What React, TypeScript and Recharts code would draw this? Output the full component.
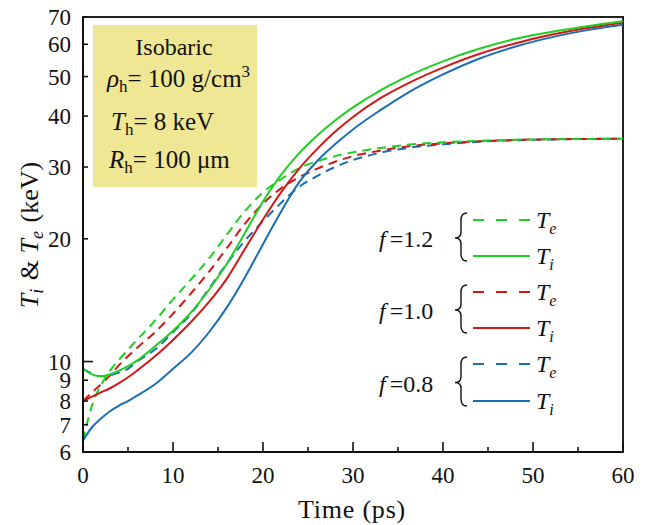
import React from 'react';
import { LineChart, Line, XAxis, YAxis, ReferenceArea } from 'recharts';

// time (ps)
const times = [0, 1, 2, 3, 4, 5, 6, 8, 10, 12, 14, 16, 18, 20, 22, 24, 26, 28, 30, 33, 36, 40, 44, 48, 52, 56, 60];
// f = 1.2
const te12 = [6.4, 7.8, 8.75, 9.5, 10.1, 10.7, 11.3, 12.6, 14.2, 15.9, 17.9, 20.5, 23.4, 26.0, 28.0, 29.8, 31.0, 31.9, 32.6, 33.4, 34.0, 34.5, 34.8, 35.0, 35.1, 35.15, 35.2];
const ti12 = [9.6, 9.3, 9.2, 9.3, 9.5, 9.75, 10.05, 10.9, 11.9, 13.2, 15.0, 17.4, 20.7, 24.7, 28.7, 32.4, 35.8, 39.0, 42.0, 46.2, 50.0, 54.5, 58.5, 61.8, 64.3, 66.4, 68.3];
// f = 1.0
const te10 = [8.0, 8.4, 8.8, 9.25, 9.8, 10.3, 10.8, 11.8, 13.1, 14.7, 16.6, 19.0, 21.8, 24.4, 26.6, 28.3, 29.7, 30.9, 31.9, 32.9, 33.7, 34.3, 34.7, 34.95, 35.1, 35.15, 35.2];
const ti10 = [8.0, 8.2, 8.4, 8.6, 8.85, 9.15, 9.5, 10.3, 11.3, 12.5, 14.0, 16.0, 18.9, 22.3, 26.0, 29.7, 33.2, 36.6, 39.8, 44.2, 48.0, 52.6, 56.8, 60.3, 63.3, 65.8, 67.8];
// f = 0.8
const te08 = [9.6, 9.35, 9.2, 9.25, 9.4, 9.6, 10.0, 10.7, 11.8, 13.1, 15.1, 17.4, 19.8, 22.1, 24.5, 26.8, 28.5, 30.0, 31.2, 32.5, 33.4, 34.1, 34.6, 34.9, 35.05, 35.15, 35.2];
const ti08 = [6.4, 6.9, 7.25, 7.55, 7.8, 8.0, 8.25, 8.8, 9.6, 10.5, 11.8, 13.6, 16.1, 19.4, 23.3, 27.5, 31.0, 34.1, 37.1, 41.3, 45.5, 50.6, 55.3, 59.2, 62.4, 65.0, 67.0];

const xTicks = [0, 5, 10, 15, 20, 25, 30, 35, 40, 45, 50, 55, 60];
const yTicks = [6, 7, 8, 9, 10, 20, 30, 40, 50, 60, 70];

const data = times.map((t, i) => ({
  t,
  te12: te12[i], ti12: ti12[i],
  te10: te10[i], ti10: ti10[i],
  te08: te08[i], ti08: ti08[i],
}));

const GREEN = '#1fcf1f';
const RED = '#d01818';
const BLUE = '#1a6fb3';
const FONT = '"Liberation Serif", "Times New Roman", serif';
const W = 647;
const H = 525;

const YTick = (props: any) => {
  const { x, y, payload } = props;
  const axisX = x + 12;
  const len = payload.value === 10 ? 10 : 5;
  return (
    <g>
      <line x1={axisX} x2={axisX + len} y1={y} y2={y} stroke="#111" strokeWidth={1.6} />
      <text x={x} y={y} dy={8} textAnchor="end" fontFamily={FONT} fontSize={23} fill="#111">
        {payload.value}
      </text>
    </g>
  );
};

const XTick = (props: any) => {
  const { x, y, payload } = props;
  const major = payload.value % 10 === 0;
  const len = major ? 10 : 5;
  return (
    <g>
      <line x1={x} x2={x} y1={y} y2={y - len} stroke="#111" strokeWidth={1.6} />
      {major && (
        <text x={x} y={y + 31} textAnchor="middle" fontFamily={FONT} fontSize={23} fill="#111">
          {payload.value}
        </text>
      )}
    </g>
  );
};

const legendGroups = [
  { label: '1.2', color: GREEN, te: 220, ti: 256 },
  { label: '1.0', color: RED, te: 292, ti: 328 },
  { label: '0.8', color: BLUE, te: 364, ti: 401 },
];

const Overlay = () => (
  <svg width={W} height={H} style={{ position: 'absolute', left: 0, top: 0, pointerEvents: 'none' }}>
    {/* info box */}
    <rect x={93} y={25} width={164} height={162} fill="#f0e795" />
    <g fontFamily={FONT} fontSize={25} fill="#111">
      <text x={174} y={55} textAnchor="middle" fontSize={24}>Isobaric</text>
      <text x={107} y={87}>
        <tspan fontStyle="italic">ρ</tspan>
        <tspan fontSize={17} dy={5}>h</tspan>
        <tspan dy={-5}>= 100 g/cm</tspan>
        <tspan fontSize={17} dy={-10}>3</tspan>
      </text>
      <text x={111} y={130}>
        <tspan fontStyle="italic">T</tspan>
        <tspan fontSize={17} dy={5}>h</tspan>
        <tspan dy={-5}>= 8 keV</tspan>
      </text>
      <text x={109} y={168}>
        <tspan fontStyle="italic">R</tspan>
        <tspan fontSize={17} dy={5}>h</tspan>
        <tspan dy={-5}>= 100 μm</tspan>
      </text>
    </g>
    {/* legend */}
    {legendGroups.map((g) => {
      const mid = (g.te + g.ti) / 2;
      const top = g.te - 7;
      const bot = g.ti + 5;
      return (
        <g key={g.label}>
          <text x={379} y={mid + 9} fontFamily={FONT} fontSize={24} fill="#111">
            <tspan fontStyle="italic">f</tspan>
            <tspan dx={4}>=</tspan>
            <tspan>{g.label}</tspan>
          </text>
          <path
            d={`M467 ${top} Q461 ${top} 461 ${top + 7} L461 ${mid - 6} Q461 ${mid} 455 ${mid} Q461 ${mid} 461 ${mid + 6} L461 ${bot - 7} Q461 ${bot} 467 ${bot}`}
            fill="none"
            stroke="#111"
            strokeWidth={1.4}
          />
          <line x1={473} x2={530} y1={g.te} y2={g.te} stroke={g.color} strokeWidth={2} strokeDasharray="11 12" />
          <line x1={473} x2={530} y1={g.ti} y2={g.ti} stroke={g.color} strokeWidth={2} />
          <text x={536} y={g.te + 8} fontFamily={FONT} fontSize={24} fill="#111">
            <tspan fontStyle="italic">T</tspan>
            <tspan fontStyle="italic" fontSize={16} dy={6}>e</tspan>
          </text>
          <text x={536} y={g.ti + 8} fontFamily={FONT} fontSize={24} fill="#111">
            <tspan fontStyle="italic">T</tspan>
            <tspan fontStyle="italic" fontSize={16} dy={6}>i</tspan>
          </text>
        </g>
      );
    })}
    {/* axis titles */}
    <text x={352} y={518} textAnchor="middle" fontFamily={FONT} fontSize={26} fill="#111" letterSpacing={0.8}>Time (ps)</text>
    <text x={38} y={235} transform="rotate(-90 38 235)" textAnchor="middle" fontFamily={FONT} fontSize={26} fill="#111">
      <tspan fontStyle="italic">T</tspan>
      <tspan fontStyle="italic" fontSize={18} dy={5}>i</tspan>
      <tspan dy={-5} dx={2}> &amp; </tspan>
      <tspan fontStyle="italic">T</tspan>
      <tspan fontStyle="italic" fontSize={18} dy={5}>e</tspan>
      <tspan dy={-5} dx={2}> (keV)</tspan>
    </text>
  </svg>
);

export default function App() {
  return (
    <div style={{ position: 'absolute', left: 0, top: 0, width: W, height: H, background: '#fff' }}>
      <LineChart width={W} height={H} data={data} margin={{ top: 17, right: 24, left: 23, bottom: 43 }}>
        <XAxis
          dataKey="t"
          type="number"
          domain={[0, 60]}
          ticks={xTicks}
          interval={0}
          tickSize={0}
          tickMargin={0}
          tickLine={false}
          tick={<XTick />}
          height={30}
          axisLine={{ stroke: '#111', strokeWidth: 2 }}
          allowDataOverflow
        />
        <YAxis
          type="number"
          scale="log"
          domain={[6, 70]}
          ticks={yTicks}
          interval={0}
          tickSize={0}
          tickMargin={12}
          tickLine={false}
          tick={<YTick />}
          width={60}
          axisLine={{ stroke: '#111', strokeWidth: 2 }}
          allowDataOverflow
        />
        <ReferenceArea x1={0} x2={60} y1={6} y2={70} fill="none" stroke="#222" strokeWidth={2} />
        <Line type="monotone" dataKey="te08" stroke={BLUE} strokeWidth={2} strokeDasharray="9 6" dot={false} isAnimationActive={false} />
        <Line type="monotone" dataKey="te10" stroke={RED} strokeWidth={2} strokeDasharray="9 6" dot={false} isAnimationActive={false} />
        <Line type="monotone" dataKey="te12" stroke={GREEN} strokeWidth={2} strokeDasharray="9 6" dot={false} isAnimationActive={false} />
        <Line type="monotone" dataKey="ti08" stroke={BLUE} strokeWidth={2} dot={false} isAnimationActive={false} />
        <Line type="monotone" dataKey="ti10" stroke={RED} strokeWidth={2} dot={false} isAnimationActive={false} />
        <Line type="monotone" dataKey="ti12" stroke={GREEN} strokeWidth={2} dot={false} isAnimationActive={false} />
      </LineChart>
      <Overlay />
    </div>
  );
}
